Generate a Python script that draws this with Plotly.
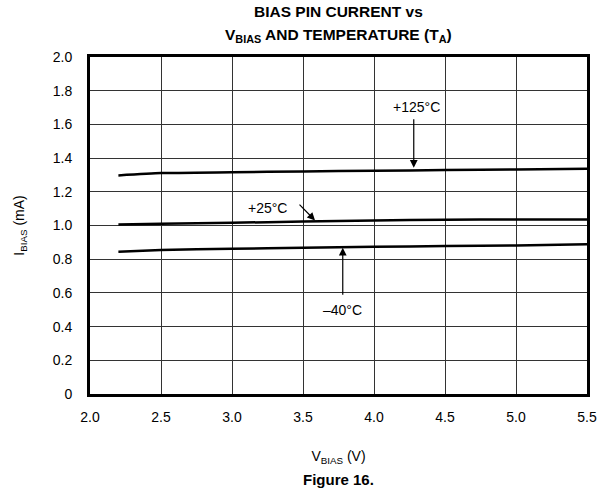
import plotly.graph_objects as go

vbias = [2.2, 2.5, 3.0, 3.5, 4.0, 4.5, 5.0, 5.5]
i_125 = [1.297, 1.311, 1.316, 1.321, 1.325, 1.329, 1.333, 1.337]
i_25 = [1.006, 1.01, 1.016, 1.024, 1.03, 1.034, 1.036, 1.036]
i_m40 = [0.844, 0.854, 0.862, 0.868, 0.874, 0.878, 0.882, 0.888]

x_ticks = [2.0, 2.5, 3.0, 3.5, 4.0, 4.5, 5.0, 5.5]
x_ticktext = ["2.0", "2.5", "3.0", "3.5", "4.0", "4.5", "5.0", "5.5"]
y_ticks = [0, 0.2, 0.4, 0.6, 0.8, 1.0, 1.2, 1.4, 1.6, 1.8, 2.0]
y_ticktext = ["0", "0.2", "0.4", "0.6", "0.8", "1.0", "1.2", "1.4", "1.6", "1.8", "2.0"]

FONT = "Liberation Sans, Arial, sans-serif"

fig = go.Figure()
for ys in (i_125, i_25, i_m40):
    fig.add_trace(go.Scatter(x=vbias, y=ys, mode="lines",
                             line=dict(color="black", width=2.5, shape="spline", smoothing=0.5),
                             showlegend=False, hoverinfo="skip"))

ann = []
# Title (two lines)
ann.append(dict(x=0.5, y=1.136, xref="paper", yref="paper", yanchor="middle", text="<b>BIAS PIN CURRENT vs</b>",
                showarrow=False, font=dict(size=15.5, color="black", family=FONT)))
ann.append(dict(x=0.5, y=1.064, xref="paper", yref="paper", yanchor="middle",
                text="<b>V<sub>BIAS</sub> AND TEMPERATURE (T<sub>A</sub>)</b>",
                showarrow=False, font=dict(size=15.5, color="black", family=FONT)))
# +125C
ann.append(dict(x=4.28, y=1.342, ax=4.28, ay=1.64, xref="x", yref="y", axref="x", ayref="y",
                showarrow=True, arrowhead=2, arrowsize=1.3, arrowwidth=1.2, arrowcolor="black", text=""))
ann.append(dict(x=4.3, y=1.705, xref="x", yref="y", text="+125°C", showarrow=False,
                font=dict(size=14, color="black", family=FONT)))
# +25C
ann.append(dict(x=3.585, y=1.03, ax=3.465, ay=1.133, xref="x", yref="y", axref="x", ayref="y",
                showarrow=True, arrowhead=2, arrowsize=1.3, arrowwidth=1.2, arrowcolor="black", text=""))
ann.append(dict(x=3.25, y=1.105, xref="x", yref="y", text="+25°C", showarrow=False,
                font=dict(size=14, color="black", family=FONT)))
# -40C
ann.append(dict(x=3.78, y=0.868, ax=3.78, ay=0.58, xref="x", yref="y", axref="x", ayref="y",
                showarrow=True, arrowhead=2, arrowsize=1.3, arrowwidth=1.2, arrowcolor="black", text=""))
ann.append(dict(x=3.78, y=0.5, xref="x", yref="y", text="–40°C", showarrow=False,
                font=dict(size=14, color="black", family=FONT)))
# Figure caption
ann.append(dict(x=0.5, y=-0.255, xref="paper", yref="paper", yanchor="middle", text="<b>Figure 16.</b>",
                showarrow=False, font=dict(size=15, color="black", family=FONT)))

fig.update_layout(
    width=612, height=500,
    margin=dict(l=90, r=25, t=57, b=106),
    paper_bgcolor="white", plot_bgcolor="white",
    font=dict(family=FONT, color="black", size=14),
    annotations=ann,
)
fig.update_xaxes(range=[2.0, 5.5], tickvals=x_ticks, ticktext=x_ticktext, showgrid=True, automargin=False,
                 gridcolor="#333", gridwidth=1, showline=True, linecolor="black", linewidth=3, mirror=True,
                 zeroline=False, ticks="", tickfont=dict(size=14), ticklabelstandoff=8,
                 title=dict(text="V<sub>BIAS</sub> (V)", font=dict(size=14), standoff=28))
fig.update_yaxes(range=[0, 2.0], tickvals=y_ticks, ticktext=y_ticktext, showgrid=True, automargin=False,
                 gridcolor="#333", gridwidth=1, showline=True, linecolor="black", linewidth=3, mirror=True,
                 zeroline=False, ticks="", tickfont=dict(size=14), ticklabelstandoff=12,
                 title=dict(text="I<sub>BIAS</sub> (mA)", font=dict(size=14), standoff=25))

fig.write_html("out.html", config={"displayModeBar": False},
               post_script="document.body.style.margin='0';")
